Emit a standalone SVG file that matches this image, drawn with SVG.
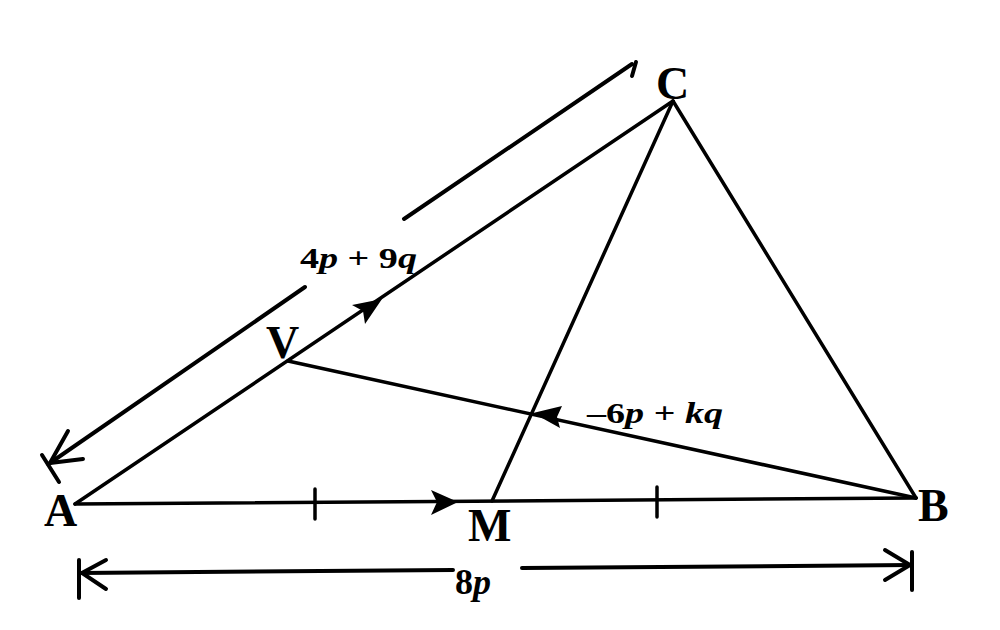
<svg xmlns="http://www.w3.org/2000/svg" width="1000" height="630" viewBox="0 0 1000 630">
<style>
.ln{stroke:#000;stroke-width:3.5;fill:none;stroke-linecap:round}
.dim{stroke:#000;stroke-width:4;fill:none;stroke-linecap:round}
.pt{font-family:"Liberation Serif",serif;font-weight:bold;font-size:46px;fill:#000}
.lb{font-family:"Liberation Serif",serif;font-weight:bold;font-size:30px;fill:#000}
.it{font-style:italic}
</style>
<rect width="1000" height="630" fill="#fff"/>
<g id="connectors">
<line class="ln" x1="75" y1="504" x2="916" y2="498"/>
<line class="ln" x1="75" y1="504" x2="673" y2="101"/>
<line class="ln" x1="673" y1="101" x2="492" y2="501"/>
<line class="ln" x1="673" y1="101" x2="916" y2="498"/>
<line class="ln" x1="288" y1="361" x2="916" y2="498"/>
<line class="ln" x1="315" y1="489" x2="315" y2="519"/>
<line class="ln" x1="657" y1="487" x2="657" y2="517"/>
<polygon points="458,502 431,490 437,502 431,515" fill="#000"/>
<polygon points="382,299 352,305 363,311 365,324" fill="#000"/>
<polygon points="533,413 562,406 557,417 560,428" fill="#000"/>
<g id="dim-AC">
<line class="dim" x1="50" y1="463" x2="305" y2="287"/>
<line class="dim" x1="404" y1="219" x2="632" y2="64"/>
<line class="dim" x1="636" y1="62" x2="632" y2="76"/>
<line class="dim" x1="42" y1="455" x2="59" y2="482"/>
<polyline class="dim" points="68,431 50,463 83,459"/>
</g>
<g id="dim-AB">
<line class="dim" x1="80" y1="573" x2="453" y2="570"/>
<line class="dim" x1="522" y1="568" x2="911" y2="565"/>
<line class="dim" x1="79" y1="560" x2="79" y2="598"/>
<line class="dim" x1="912" y1="552" x2="912" y2="590"/>
<polyline class="dim" points="106,560 82,573 106,589"/>
<polyline class="dim" points="885,550 910,565 885,580"/>
</g>
</g>
<g id="node-A"><text class="pt" x="44" y="526">A</text></g>
<g id="node-B"><text class="pt" x="918" y="521">B</text></g>
<g id="node-C"><text class="pt" x="656" y="99">C</text></g>
<g id="node-M"><text class="pt" x="468" y="541">M</text></g>
<g id="node-V"><text class="pt" x="266" y="358">V</text></g>
<g id="labels">
<text class="lb" x="300" y="268" textLength="117" lengthAdjust="spacingAndGlyphs">4<tspan class="it">p</tspan> + 9<tspan class="it">q</tspan></text>
<text class="lb" x="587" y="423" textLength="136" lengthAdjust="spacingAndGlyphs">–6<tspan class="it">p</tspan> + <tspan class="it">kq</tspan></text>
<text class="lb" x="455" y="594" style="font-size:36px">8<tspan class="it">p</tspan></text>
</g>
</svg>
